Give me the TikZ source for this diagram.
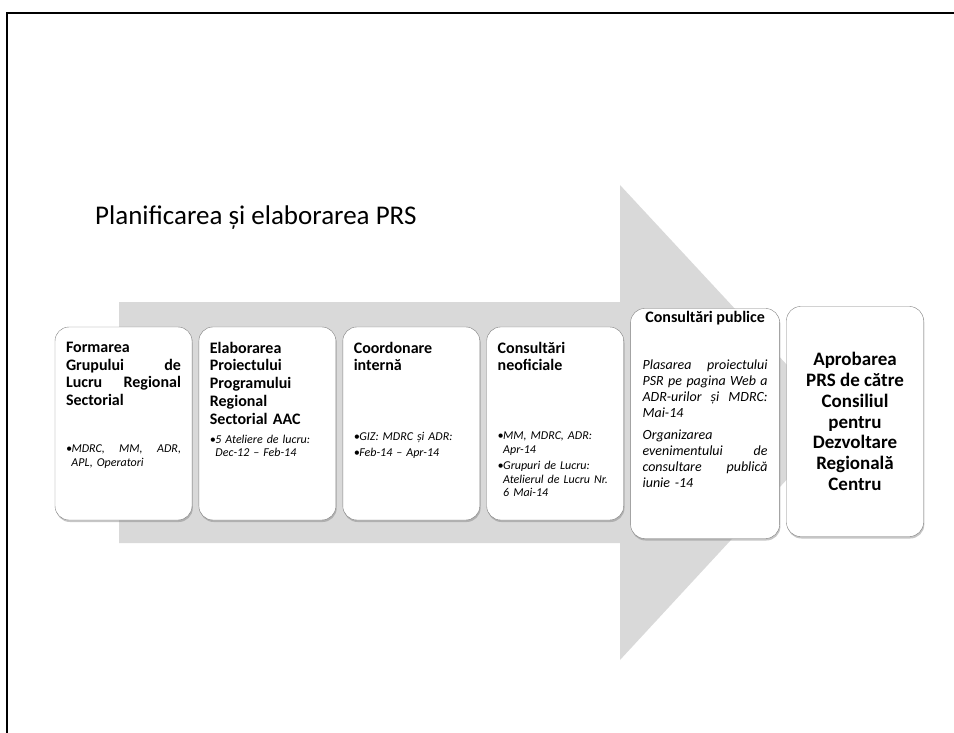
\documentclass[tikz,border=0pt]{standalone}
\usepackage{fontspec}
\setmainfont{Carlito}
\usetikzlibrary{positioning,shadows}

\newcommand{\stagebullet}{\makebox[5.5pt][l]{•}}
\newcommand{\stageindent}{\hspace*{5.5pt}}
\newcommand{\spreadline}[1]{\makebox[\hsize][s]{#1}}

\begin{document}
\begin{tikzpicture}[x=1pt,y=-1pt,node distance=6.5pt,
  stage box/.style={draw=black!50,fill=white,rounded corners=14pt,
    minimum width=137pt,minimum height=193pt,inner sep=0pt,
    drop shadow={shadow xshift=0.8pt,shadow yshift=-2pt,opacity=0.45}},
  tall box/.style={stage box,minimum height=230pt},
  stage head/.style={font=\bfseries\fontsize{16}{17.7}\selectfont,
    align=left,text width=115pt,inner sep=0pt},
  stage note/.style={font=\itshape\fontsize{12}{13.5}\selectfont,
    align=left,text width=115pt,inner sep=0pt}]

  \useasboundingbox (0,0) rectangle (954,733);

  % frame of the scanned page
  \draw[line width=2.5pt] (7,733) -- (7,13) -- (954,13);

  % big gray arrow behind the stages
  \fill[black!15] (119,302) -- (620,302) -- (620,185) -- (840,422)
    -- (620,660) -- (620,543) -- (119,543) -- cycle;

  \node[anchor=base west,inner sep=0pt,font=\fontsize{27}{32}\selectfont]
    (title) at (95,225) {Planificarea și elaborarea PRS};

  % the six stages
  \node[stage box] (formare) at (123.5,423.5) {};
  \node[stage box] (elaborare) [right=of formare] {};
  \node[stage box] (coordonare) [right=of elaborare] {};
  \node[stage box] (neoficiale) [right=of coordonare] {};
  \node[tall box,minimum width=149pt] (publice) [right=of neoficiale] {};
  \node[tall box,align=center,font=\bfseries\fontsize{19}{20.8}\selectfont]
    (aprobare) [right=of publice] [yshift=2pt]
    {Aprobarea\\ PRS de către\\ Consiliul\\ pentru\\ Dezvoltare\\ Regională\\ Centru};

  \node[stage head] (formare head) [below right=15pt and 11pt of formare.north west]
    {Formarea\\ \spreadline{Grupului\hfill de}\\ \spreadline{Lucru\hfill Regional}\\ Sectorial};
  \node[stage note] (formare note) [below right=118pt and 11pt of formare.north west]
    {\spreadline{\stagebullet MDRC,\hfill MM,\hfill ADR,}\\ \stageindent APL, Operatori};

  \node[stage head] (elaborare head) [below right=15pt and 11pt of elaborare.north west]
    {Elaborarea\\ Proiectului\\ Programului\\ Regional\\ Sectorial AAC};
  \node[stage note] (elaborare note) [below right=108pt and 11pt of elaborare.north west]
    {\stagebullet 5 Ateliere de lucru:\\ \stageindent Dec-12 – Feb-14};

  \node[stage head] (coordonare head) [below right=15pt and 11pt of coordonare.north west]
    {Coordonare\\ internă};
  \node[stage note] (coordonare note) [below right=105pt and 11pt of coordonare.north west]
    {\stagebullet GIZ: MDRC și ADR:\\[3pt] \stagebullet Feb-14 – Apr-14};

  \node[stage head] (neoficiale head) [below right=15pt and 11pt of neoficiale.north west]
    {Consultări\\ neoficiale};
  \node[stage note] (neoficiale note) [below right=105pt and 11pt of neoficiale.north west]
    {\stagebullet MM, MDRC, ADR:\\ \stageindent Apr-14\\[3pt]
     \stagebullet Grupuri de Lucru:\\ \stageindent Atelierul de Lucru Nr.\\
     \stageindent 6 Mai-14};

  \node[stage head,text width=,align=center] (publice head) [below=3pt of publice.north]
    {Consultări publice};
  \node[stage note,text width=125pt,font=\itshape\fontsize{14}{16}\selectfont]
    (publice note) [below right=51pt and 12pt of publice.north west]
    {\spreadline{Plasarea\hfill proiectului}\\ \spreadline{PSR\hfill pe\hfill pagina\hfill Web\hfill a}\\
     \spreadline{ADR-urilor\hfill și\hfill MDRC:}\\ Mai-14\\[6pt] Organizarea\\
     \spreadline{evenimentului\hfill de}\\ \spreadline{consultare\hfill publică}\\ iunie -14};
\end{tikzpicture}
\end{document}
